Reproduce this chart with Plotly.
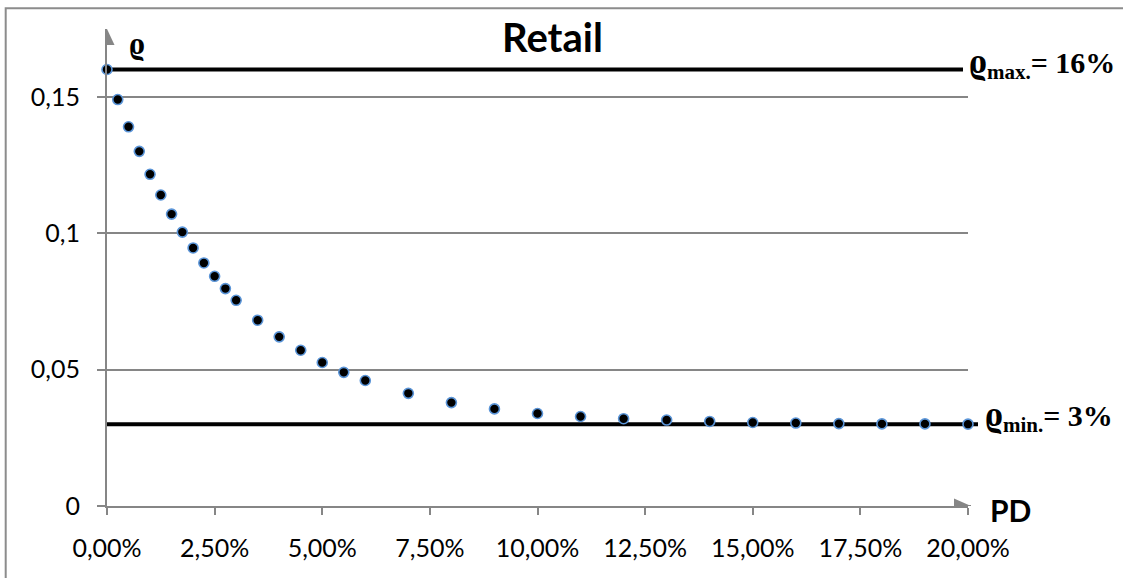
import plotly.graph_objects as go

# ---- data ----
pd_percent = [0, 0.25, 0.5, 0.75, 1.0, 1.25, 1.5, 1.75, 2.0, 2.25, 2.5, 2.75, 3.0,
              3.5, 4.0, 4.5, 5.0, 5.5, 6.0, 7, 8, 9, 10, 11, 12, 13, 14, 15, 16,
              17, 18, 19, 20]
rho = [0.160, 0.149, 0.139, 0.130, 0.1216, 0.114, 0.107, 0.1004, 0.0946, 0.0891,
       0.0842, 0.0797, 0.0754, 0.0681, 0.0620, 0.0571, 0.0526, 0.0490, 0.0460,
       0.0413, 0.0379, 0.0356, 0.0339, 0.0328, 0.0320, 0.0315, 0.0310, 0.0306,
       0.0304, 0.0302, 0.0301, 0.0301, 0.0300]
rho_max = 0.16
rho_min = 0.03
x_tick_vals = [0, 0.025, 0.05, 0.075, 0.10, 0.125, 0.15, 0.175, 0.20]
x_tick_text = ["0,00%", "2,50%", "5,00%", "7,50%", "10,00%", "12,50%", "15,00%",
               "17,50%", "20,00%"]
y_tick_vals = [0, 0.05, 0.10, 0.15]
y_tick_text = ["0", "0,05", "0,1", "0,15"]
title_text = "Retail"

pd_frac = [p / 100 for p in pd_percent]

AX = "#868686"
SANS = "Lato, Carlito, 'Liberation Sans', sans-serif"
SERIF = "'Liberation Serif', 'DejaVu Serif', serif"

W, H = 1123, 578
L, R, T, B = 107, 155, 29, 72
plot_w = W - L - R
plot_h = H - T - B

fig = go.Figure()
fig.add_trace(go.Scatter(
    x=pd_frac, y=rho, mode="markers", cliponaxis=False,
    marker=dict(size=10, color="black", line=dict(color="#5b95d8", width=1.6)),
    showlegend=False, hoverinfo="x+y"))

shapes = [
    # outer border (extends past the right and bottom edges)
    dict(type="rect", xref="paper", yref="paper",
         x0=(5.7 - L) / plot_w, x1=1.3, y0=-0.3, y1=(H - B - 8.3) / plot_h,
         line=dict(color="#8c8c8c", width=2), fillcolor="rgba(0,0,0,0)", layer="below"),
    # rho max / rho min lines
    dict(type="line", xref="paper", yref="y", x0=0, x1=(963 - L) / plot_w,
         y0=rho_max, y1=rho_max, line=dict(color="black", width=4), layer="between"),
    dict(type="line", xref="paper", yref="y", x0=0, x1=(978 - L) / plot_w,
         y0=rho_min, y1=rho_min, line=dict(color="black", width=4), layer="between"),
    # y axis arrow head
    dict(type="path", xref="x", xsizemode="pixel", xanchor=0,
         yref="paper", ysizemode="pixel", yanchor=1,
         path="M -7.5,-16 L 0,0 L 7.5,-16 Z", fillcolor=AX, line=dict(width=0)),
    # x axis arrow head
    dict(type="path", xref="paper", xsizemode="pixel", xanchor=1,
         yref="y", ysizemode="pixel", yanchor=0,
         path="M -14,-7.5 L 3,0 L -14,7.5 Z", fillcolor=AX, line=dict(width=0)),
    dict(type="line", xref="paper", xsizemode="pixel", xanchor=1,
         yref="y", y0=0, y1=0, x0=0, x1=3, line=dict(color=AX, width=2)),
]

RHO_BIG = "<span style='font-size:36px'>ϱ</span>"

annotations = [
    dict(text="<b>" + title_text + "</b>", xref="paper", yref="paper",
         x=(552 - L) / plot_w, xanchor="center", y=1, yanchor="middle", yshift=-8,
         showarrow=False, font=dict(family=SANS, size=40, color="black")),
    dict(text="<b>ϱ</b>", xref="paper", yref="paper", x=0, xanchor="left", xshift=20,
         y=1, yanchor="middle", yshift=-14, showarrow=False,
         font=dict(family=SERIF, size=32, color="black")),
    dict(text="<b>PD</b>", xref="paper", yref="y", x=1, xanchor="center", xshift=42,
         y=0, yanchor="middle", yshift=-4, showarrow=False,
         font=dict(family=SANS, size=30, color="black")),
    dict(text="<b>" + RHO_BIG + "<sub>max.</sub>= 16%</b>", xref="paper", yref="y",
         x=(967 - L) / plot_w, xanchor="left", y=rho_max, yanchor="middle", yshift=7,
         showarrow=False, font=dict(family=SERIF, size=30, color="black")),
    dict(text="<b>" + RHO_BIG + "<sub>min.</sub>= 3%</b>", xref="paper", yref="y",
         x=(983 - L) / plot_w, xanchor="left", y=rho_min, yanchor="middle", yshift=9,
         showarrow=False, font=dict(family=SERIF, size=30, color="black")),
]

fig.update_layout(
    width=W, height=H, autosize=False,
    margin=dict(l=L, r=R, t=T, b=B, pad=0),
    paper_bgcolor="white", plot_bgcolor="white",
    shapes=shapes, annotations=annotations, showlegend=False,
    xaxis=dict(range=[0, 0.2], tickvals=x_tick_vals, ticktext=x_tick_text,
               showgrid=False, zeroline=False, showline=True, linecolor=AX, linewidth=2,
               ticks="outside", ticklen=7, tickwidth=2, tickcolor=AX,
               ticklabelstandoff=12,
               tickfont=dict(family=SANS, size=25, color="black")),
    yaxis=dict(range=[0, plot_h / 2728.0], tickvals=y_tick_vals, ticktext=y_tick_text,
               showgrid=True, gridcolor=AX, gridwidth=1.5, zeroline=False,
               showline=True, linecolor=AX, linewidth=2,
               ticks="outside", ticklen=8, tickwidth=2, tickcolor=AX,
               ticklabelstandoff=12,
               tickfont=dict(family=SANS, size=25, color="black")),
)

fig.write_html("out.html", config={"displayModeBar": False},
               post_script="document.body.style.margin='0';"
                           "document.documentElement.style.overflow='hidden';")
